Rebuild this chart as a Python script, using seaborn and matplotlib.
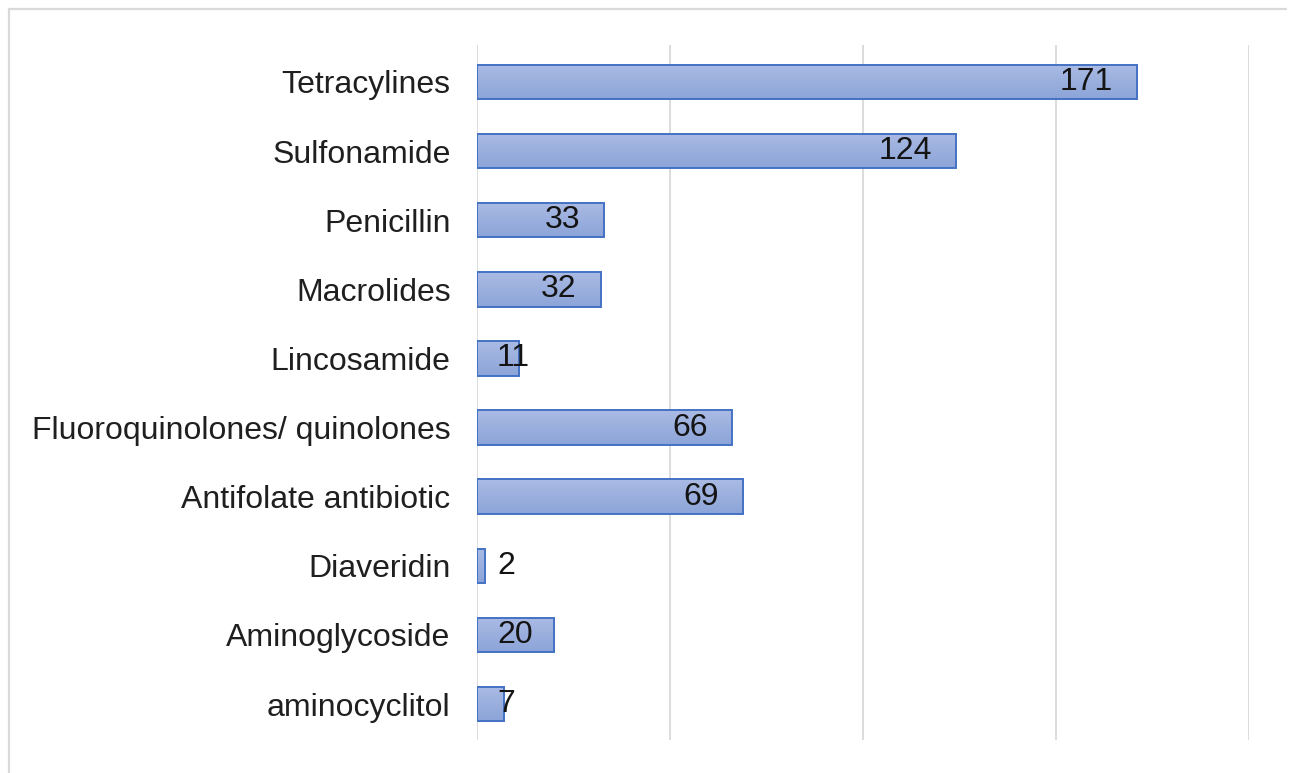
import numpy as np
import pandas as pd
import matplotlib
matplotlib.use("Agg")
import matplotlib.pyplot as plt
from matplotlib.lines import Line2D
from matplotlib.colors import LinearSegmentedColormap
import seaborn as sns

categories = [
    "Tetracylines",
    "Sulfonamide",
    "Penicillin",
    "Macrolides",
    "Lincosamide",
    "Fluoroquinolones/ quinolones",
    "Antifolate antibiotic",
    "Diaveridin",
    "Aminoglycoside",
    "aminocyclitol",
]
counts = [171, 124, 33, 32, 11, 66, 69, 2, 20, 7]
grid_ticks = [0, 50, 100, 150, 200]

df = pd.DataFrame({"category": categories, "count": counts})

sns.set_theme(style="white")
plt.rcParams["font.family"] = ["Liberation Sans", "DejaVu Sans"]

W, H = 1290, 773
fig = plt.figure(figsize=(W / 100, H / 100), dpi=100)
fig.patch.set_facecolor("white")
ax = fig.add_axes([477 / W, 1 - 740 / H, 772 / W, 695 / H])

sns.barplot(data=df, x="count", y="category", orient="h", color="#9DB1DE",
            edgecolor="#4472C4", linewidth=1.4, width=0.5, ax=ax)

# vertical gradient fill inside each bar
grad_cmap = LinearSegmentedColormap.from_list("bar_grad", ["#AABBE4", "#8CA4D8"])
grad = np.linspace(0, 1, 64).reshape(-1, 1)
for p in ax.patches:
    x0, y0 = p.get_x(), p.get_y()
    w, h = p.get_width(), p.get_height()
    p.set_facecolor("none")
    p.set_zorder(3)
    im = ax.imshow(grad, cmap=grad_cmap, aspect="auto", interpolation="bilinear",
                   extent=[x0, x0 + w, y0 + h, y0], zorder=2)
    im.set_clip_path(p)

ax.set_xlim(0, 200)
ax.set_ylim(9.52, -0.535)
ax.set_xticks(grid_ticks)
ax.set_xticklabels([])
ax.grid(axis="x", color="#D9D9D9", linewidth=1.3, zorder=0)
ax.set_axisbelow(True)
for s in ax.spines.values():
    s.set_visible(False)
ax.set_xlabel("")
ax.set_ylabel("")
ax.tick_params(axis="y", length=0, pad=19, labelsize=23, labelcolor="#1f1f1f")
ax.tick_params(axis="x", length=0)

# value labels at the inner end of each bar, kept clear of the axis line
fig.canvas.draw()
renderer = fig.canvas.get_renderer()
to_disp = ax.transData
min_left = to_disp.transform((0, 0))[0] + 20
for i, v in enumerate(counts):
    end_px = to_disp.transform((v, i))[0]
    t = ax.text(v, i, str(v), ha="right", va="center", fontsize=23,
                color="#141414", zorder=5)
    bb = t.get_window_extent(renderer)
    right = end_px - 24
    if right - bb.width < min_left:
        right = min_left + bb.width
    xr = to_disp.inverted().transform((right, 0))[0]
    t.set_x(xr)

# light frame along the top and left of the chart area
frame_kw = dict(transform=fig.transFigure, color="#D9D9D9", linewidth=1.6)
fig.add_artist(Line2D([9 / W, 1286 / W], [1 - 9 / H, 1 - 9 / H], **frame_kw))
fig.add_artist(Line2D([9 / W, 9 / W], [1 - 9 / H, 0], **frame_kw))

fig.savefig("out.png", dpi=100, facecolor="white")
